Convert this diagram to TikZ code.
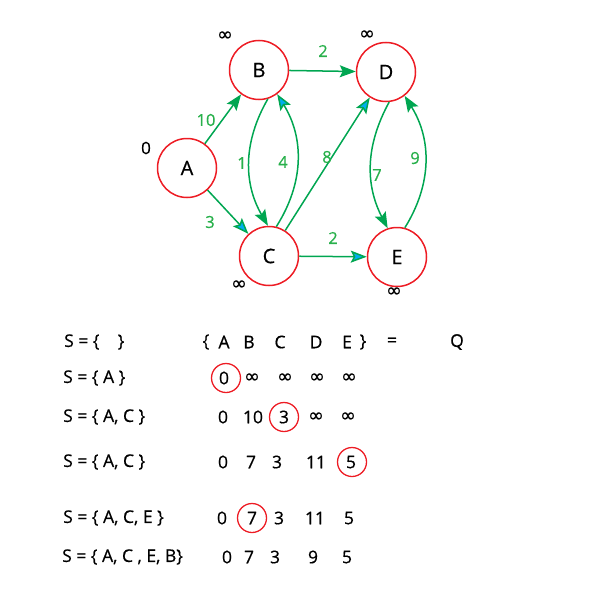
\documentclass[tikz,border=0pt]{standalone}
\usepackage{fontspec}
\setmainfont{Open Sans}[FakeBold=0.6]
\newfontfamily\symfont{DejaVu Sans}[FakeBold=0.6]
\usetikzlibrary{arrows.meta}

\definecolor{edgegreen}{RGB}{0,166,81}
\definecolor{labelgreen}{RGB}{40,176,75}
\definecolor{ringred}{RGB}{237,28,36}
\definecolor{tipblue}{RGB}{0,174,239}
\newcommand\infsym{{\symfont\fontsize{19}{20}\selectfont ∞}}

\tikzset{
	vertex/.style={circle,draw=ringred,line width=1.5pt,minimum size=59pt,inner sep=0pt,font=\fontsize{20}{22}\selectfont},
	wedge/.style={edgegreen,line width=1.5pt,-{Stealth[length=16pt,width=12pt,inset=3pt]}},
	bwedge/.style={edgegreen,line width=1.5pt,-{Stealth[length=16pt,width=12pt,inset=3pt,fill=tipblue]}},
	weight/.style={text=labelgreen,inner sep=0pt,font=\fontsize{16.5}{19}\selectfont},
	dist/.style={inner sep=0pt,font=\fontsize{17}{20}\selectfont},
	cell/.style={inner sep=0pt,font=\fontsize{17.5}{19}\selectfont},
	pick/.style={circle,draw=ringred,line width=1.3pt,minimum size=29pt,inner sep=0pt}
}

\begin{document}
\begin{tikzpicture}[x=1pt,y=-1pt]
	\useasboundingbox (0,0) rectangle (605,610);
	% graph
	\node[vertex] (A) at (187,168) {A};
	\node[vertex] (B) at (259,70) {B};
	\node[vertex] (C) at (269,256) {C};
	\node[vertex] (D) at (386,72) {D};
	\node[vertex] (E) at (397,257) {E};
	\draw[wedge] (A) -- (B);
	\draw[bwedge] (A) -- (C);
	\draw[wedge] (B) -- (D);
	\draw[bwedge] (C) -- (D);
	\draw[bwedge] (C) -- (E);
	\draw[wedge] (B.-73) to[bend right=30] (C.92);
	\draw[bwedge] (C.76) to[bend right=32] (B.-53);
	\draw[wedge] (D.-84) to[bend right=28] (E.108);
	\draw[wedge] (E.75) to[bend right=32] (D.-52);
	\node[weight] (wAB) at (206,120) {10};
	\node[weight] (wAC) at (210,222) {3};
	\node[weight] (wBD) at (323,51) {2};
	\node[weight] (wBC) at (242,163) {1};
	\node[weight] (wCB) at (283,162) {4};
	\node[weight] (wCD) at (327,157) {8};
	\node[weight] (wDE) at (377,175) {7};
	\node[weight] (wED) at (415,158) {9};
	\node[weight] (wCE) at (333,238) {2};
	\node[dist] (dA) at (146,148) {0};
	\node[dist] (dB) at (225,36) {\infsym};
	\node[dist] (dC) at (239,285) {\infsym};
	\node[dist] (dD) at (367,35) {\infsym};
	\node[dist] (dE) at (394,292) {\infsym};
	% table
	\node[cell,anchor=west] (s0) at (64,342) {S = \{\ \ \ \ \}};
	\node[cell,anchor=west] (s1) at (63,378) {S = \{ A \}};
	\node[cell,anchor=west] (s2) at (63,417) {S = \{ A, C \}};
	\node[cell,anchor=west] (s3) at (63,462) {S = \{ A, C \}};
	\node[cell,anchor=west] (s4) at (63,518) {S = \{ A, C, E \}};
	\node[cell,anchor=west] (s5) at (62,557) {S = \{ A, C , E, B\}};
	\foreach \v/\x [count=\i] in {\{/206,A/224,B/249,C/280,D/316,E/347,\}/363,=/392,Q/457}
		\node[cell] (h\i) at (\x,342) {\v};
	\foreach \v/\x [count=\i] in {0/224,\infsym/252,\infsym/285,\infsym/317,\infsym/349}
		\node[cell] (ra\i) at (\x,378) {\v};
	\foreach \v/\x [count=\i] in {0/223,10/253,3/284,\infsym/316,\infsym/348}
		\node[cell] (rb\i) at (\x,417) {\v};
	\foreach \v/\x [count=\i] in {0/223,7/251,3/277,11/316,5/351}
		\node[cell] (rc\i) at (\x,462) {\v};
	\foreach \v/\x [count=\i] in {0/222,7/252,3/279,11/315,5/349}
		\node[cell] (rd\i) at (\x,518) {\v};
	\foreach \v/\x [count=\i] in {0/227,7/249,3/275,9/313,5/347}
		\node[cell] (re\i) at (\x,557) {\v};
	\node[pick] (pa) at (226,378) {};
	\node[pick] (pb) at (284,417) {};
	\node[pick] (pc) at (352,462) {};
	\node[pick] (pd) at (252,518) {};
\end{tikzpicture}
\end{document}
